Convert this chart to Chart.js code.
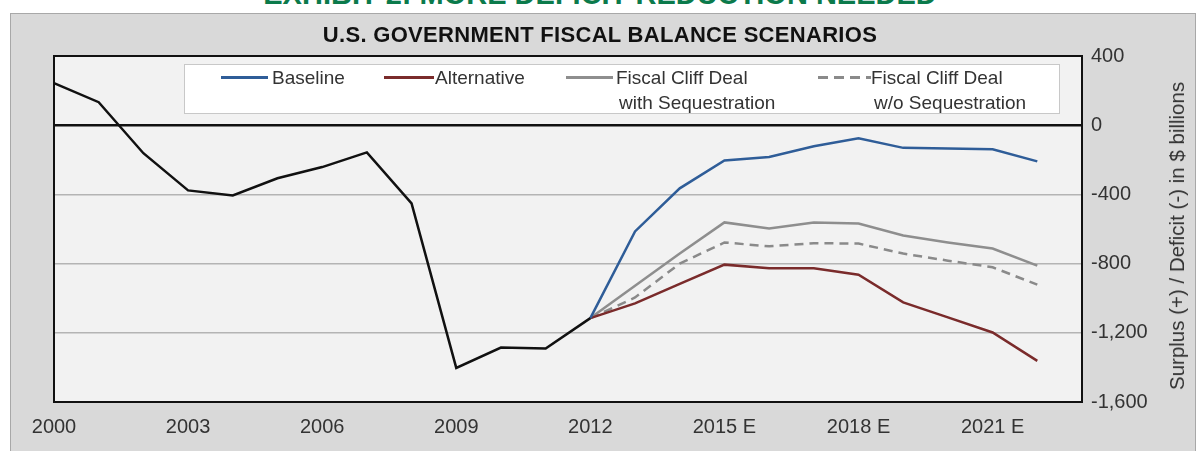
<!DOCTYPE html>
<html>
<head>
<meta charset="utf-8">
<script src="https://cdn.jsdelivr.net/npm/chart.js@4.4.1/dist/chart.umd.min.js"></script>
<style>
  html, body { margin: 0; padding: 0; background: #fff; }
  #wrap { position: relative; width: 1200px; height: 451px; overflow: hidden; font-family: "Liberation Sans", Arial, sans-serif; }
  #exhibit { position: absolute; left: 0; width: 1200px; top: -20px; text-align: center; font: bold 29px/29px "Liberation Sans", Arial, sans-serif; color: #0b7a4b; }
  #panel { position: absolute; left: 10px; top: 13px; width: 1184px; height: 450px; background: #d9d9d9; border: 1px solid #a8a8a8; }
  #chart { position: absolute; left: 0; top: 0; }
  #title { position: absolute; left: 0; width: 1200px; top: 22px; text-align: center; font: bold 22px/26px "Liberation Sans", Arial, sans-serif; letter-spacing: 0.3px; color: #111; }
  #legend { position: absolute; left: 184px; top: 64px; width: 874px; height: 48px; background: #fff; border: 1px solid #c8c8c8; }
  .sample { position: absolute; height: 2.5px; }
  .ltxt { position: absolute; font: 19px/25px "Liberation Sans", Arial, sans-serif; color: #333; white-space: nowrap; }
  #ytitle { position: absolute; left: 1177px; top: 236px; transform: translate(-50%, -50%) rotate(-90deg); font: 20.5px/22px "Liberation Sans", Arial, sans-serif; color: #333; white-space: nowrap; }
</style>
</head>
<body>
<div id="wrap">
  <div id="exhibit">EXHIBIT 2: MORE DEFICIT REDUCTION NEEDED</div>
  <div id="panel"></div>
  <canvas id="chart" width="1200" height="451"></canvas>
  <div id="title">U.S. GOVERNMENT FISCAL BALANCE SCENARIOS</div>
  <div id="legend"></div>
  <div id="ytitle">Surplus (+) / Deficit (-) in $ billions</div>
</div>
<script>
// years on the x axis (2023 is the empty last slot)
const years = ["2000","2001","2002","2003","2004","2005","2006","2007","2008","2009","2010","2011","2012",
               "2013 E","2014 E","2015 E","2016 E","2017 E","2018 E","2019 E","2020 E","2021 E","2022 E","2023 E"];

// actual balance 2000-2012, $ billions
const actual = [243, 133, -162, -377, -406, -307, -242, -157, -452, -1403, -1285, -1291, -1115];

// projections 2012-2022
const baseline    = [-1115, -614, -365, -204, -184, -122, -76, -131, -134, -139, -209];
const alternative = [-1115, -1030, -917, -806, -827, -827, -864, -1024, -1111, -1198, -1362];
const withSeq     = [-1115, -928, -742, -562, -597, -562, -568, -638, -678, -713, -812];
const withoutSeq  = [-1115, -996, -800, -678, -700, -682, -684, -742, -783, -821, -922];

const yTicks = [400, 0, -400, -800, -1200, -1600];

const pre  = Array(12).fill(null);
const post = [null];

const seriesNames = ["Baseline", "Alternative", "Fiscal Cliff Deal\nwith Sequestration", "Fiscal Cliff Deal\nw/o Sequestration"];

// legend (html, the labels have two lines)
const legend = document.querySelector("#legend");
const legItems = [
  { color: "#2f5d98", dash: false, x: 36,  w: 47, tx: 87 },
  { color: "#7a2b2b", dash: false, x: 199, w: 50, tx: 250 },
  { color: "#8e8e8e", dash: false, x: 381, w: 47, tx: 431 },
  { color: "#8a8a8a", dash: true,  x: 633, w: 53, tx: 686 }
];
legItems.forEach((it, i) => {
  const s = document.createElement("div");
  s.className = "sample";
  s.style.left = it.x + "px";
  s.style.top = "11px";
  s.style.width = it.w + "px";
  s.style.background = it.dash
    ? "repeating-linear-gradient(to right, " + it.color + " 0 10px, transparent 10px 16px)"
    : it.color;
  legend.appendChild(s);
  const t = document.createElement("div");
  t.className = "ltxt";
  t.style.left = it.tx + "px";
  t.style.top = "0px";
  t.innerHTML = seriesNames[i].split("\n").map((l, k) => k ? "<span style='padding-left:3px'>" + l + "</span>" : l).join("<br>");
  legend.appendChild(t);
});

const plotBg = {
  id: "plotBg",
  beforeDraw(chart) {
    const { ctx, chartArea: a } = chart;
    ctx.save();
    ctx.fillStyle = "#f2f2f2";
    ctx.fillRect(a.left, a.top, a.right - a.left, a.bottom - a.top);
    ctx.restore();
  },
  afterDraw(chart) {
    const { ctx, chartArea: a } = chart;
    ctx.save();
    ctx.strokeStyle = "#111";
    ctx.lineWidth = 2;
    ctx.strokeRect(a.left, a.top, a.right - a.left, a.bottom - a.top);
    ctx.restore();
  }
};

const tickFont = "'Liberation Sans', Arial, sans-serif";

new Chart(document.querySelector("#chart").getContext("2d"), {
  type: "line",
  data: {
    labels: years,
    datasets: [
      { label: "Actual", data: actual.concat(Array(11).fill(null)), borderColor: "#111", borderWidth: 2.5 },
      { label: "Baseline", data: pre.concat(baseline, post), borderColor: "#2f5d98", borderWidth: 2.5 },
      { label: "Alternative", data: pre.concat(alternative, post), borderColor: "#7a2b2b", borderWidth: 2.5 },
      { label: "Fiscal Cliff Deal with Sequestration", data: pre.concat(withSeq, post), borderColor: "#8e8e8e", borderWidth: 2.5 },
      { label: "Fiscal Cliff Deal w/o Sequestration", data: pre.concat(withoutSeq, post), borderColor: "#8a8a8a", borderWidth: 2.5, borderDash: [9, 6] }
    ]
  },
  options: {
    responsive: false,
    animation: false,
    layout: { padding: { left: 54, top: 56, right: 8, bottom: 0 } },
    elements: { point: { radius: 0 }, line: { tension: 0 } },
    plugins: { legend: { display: false }, tooltip: { enabled: false } },
    scales: {
      x: {
        offset: false,
        grid: { display: false, drawTicks: false },
        border: { color: "#111", width: 2 },
        ticks: {
          autoSkip: false, maxRotation: 0, padding: 13, color: "#333",
          font: { family: tickFont, size: 20 },
          callback: function (v, i) { return i % 3 === 0 ? years[i] : ""; }
        },
        afterFit: s => { s.height = 49; }
      },
      y: {
        position: "right",
        min: -1600, max: 400,
        afterBuildTicks: s => { s.ticks = yTicks.map(v => ({ value: v })); },
        grid: {
          drawTicks: false,
          color: c => c.tick.value === 0 ? "#111" : "#b4b4b4",
          lineWidth: c => c.tick.value === 0 ? 2.5 : 1.5
        },
        border: { color: "#111", width: 2 },
        ticks: {
          padding: 9, color: "#333",
          font: { family: tickFont, size: 20 },
          callback: v => v.toLocaleString("en-US")
        },
        afterFit: s => { s.width = 110; }
      }
    }
  },
  plugins: [plotBg]
});
</script>
</body>
</html>
